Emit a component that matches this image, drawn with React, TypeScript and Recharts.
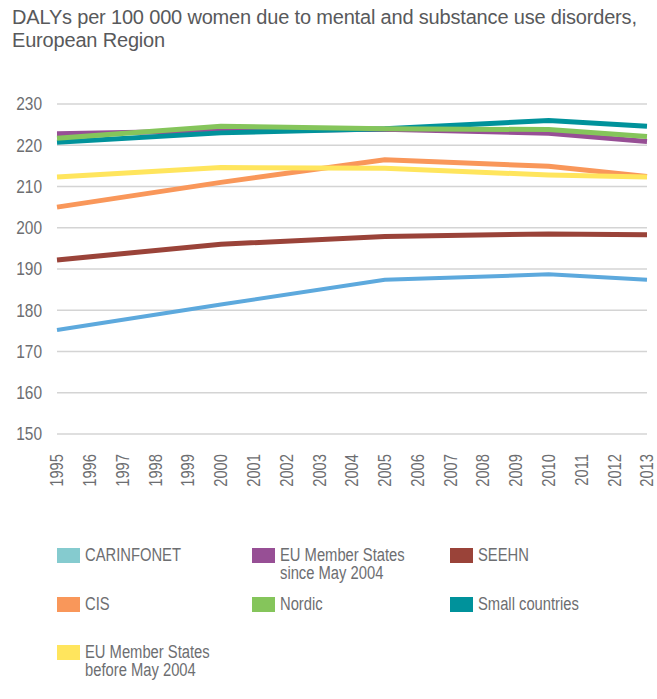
import React from "react";
import { LineChart, Line, XAxis, YAxis, CartesianGrid } from "recharts";

// x axis shows every year, values are only known for these years
const years = [
  "1995", "1996", "1997", "1998", "1999", "2000", "2001", "2002", "2003", "2004",
  "2005", "2006", "2007", "2008", "2009", "2010", "2011", "2012", "2013",
];
const measuredYears = ["1995", "2000", "2005", "2010", "2013"];

const carinfonet = [175.2, 181.4, 187.4, 188.7, 187.4];
const euSince2004 = [222.8, 223.5, 223.9, 222.9, 220.9];
const seehn = [192.2, 196.0, 197.9, 198.5, 198.3];
const cis = [205.0, 211.0, 216.5, 214.9, 212.4];
const nordic = [221.7, 224.6, 224.0, 223.8, 222.1];
const smallCountries = [220.7, 223.0, 224.0, 226.0, 224.6];
const euBefore2004 = [212.3, 214.6, 214.4, 212.8, 212.3];

const yTicks = [150, 160, 170, 180, 190, 200, 210, 220, 230];

const series = [
  { key: "carinfonet", name: "CARINFONET", values: carinfonet, stroke: "#5DA9DD", swatch: "#85CBCF" },
  { key: "seehn", name: "SEEHN", values: seehn, stroke: "#9A4339", swatch: "#9A4339" },
  { key: "euSince", name: "EU Member States\nsince May 2004", values: euSince2004, stroke: "#974F95", swatch: "#974F95" },
  { key: "small", name: "Small countries", values: smallCountries, stroke: "#00929B", swatch: "#00929B" },
  { key: "cis", name: "CIS", values: cis, stroke: "#F9975A", swatch: "#F9975A" },
  { key: "euBefore", name: "EU Member States\nbefore May 2004", values: euBefore2004, stroke: "#FFE55D", swatch: "#FFE55D" },
  { key: "nordic", name: "Nordic", values: nordic, stroke: "#85C55B", swatch: "#85C55B" },
];

const legendOrder = [
  ["carinfonet", "euSince", "seehn"],
  ["cis", "nordic", "small"],
  ["euBefore"],
];

const data = years.map((year) => {
  const row: any = { year };
  const i = measuredYears.indexOf(year);
  series.forEach((s) => {
    row[s.key] = i >= 0 ? s.values[i] : null;
  });
  return row;
});

// no condensed font available, so Liberation Sans gets squeezed horizontally
const sans = "'Liberation Sans', Arial, sans-serif";
const textGrey = "#6D6E71";

const YearTick = ({ x, y, payload }: any) => (
  <text
    x={0}
    y={0}
    dy="0.35em"
    textAnchor="end"
    transform={`translate(${x}, ${y}) rotate(-90) scale(0.82, 1)`}
    fill={textGrey}
    fontSize={18}
    fontFamily={sans}
  >
    {payload.value}
  </text>
);

const ValueTick = ({ x, y, payload }: any) => (
  <text
    x={0}
    y={0}
    dy="0.36em"
    textAnchor="end"
    transform={`translate(${x}, ${y}) scale(0.86, 1)`}
    fill={textGrey}
    fontSize={18}
    fontFamily={sans}
  >
    {payload.value}
  </text>
);

const colX = [57, 252, 450];
const rowY = [548, 597, 645];

export default function App() {
  return (
    <div
      style={{
        position: "absolute",
        left: 0,
        top: 0,
        width: 657,
        height: 699,
        background: "#fff",
      }}
    >
      <div
        style={{
          position: "absolute",
          left: 12,
          top: 6,
          fontFamily: sans,
          fontSize: 20,
          letterSpacing: "-0.18px",
          lineHeight: "23px",
          color: "#58595B",
          whiteSpace: "nowrap",
        }}
      >
        DALYs per 100 000 women due to mental and substance use disorders,
        <br />
        European Region
      </div>

      <div style={{ position: "absolute", left: 0, top: 0 }}>
        <LineChart
          width={657}
          height={500}
          data={data}
          margin={{ top: 104, right: 10, bottom: 0, left: 0 }}
        >
          <CartesianGrid vertical={false} stroke="#D4D4D4" strokeWidth={1.5} />
          <XAxis
            dataKey="year"
            interval={0}
            height={66}
            axisLine={false}
            tickLine={false}
            tickSize={0}
            tickMargin={20}
            tick={<YearTick />}
          />
          <YAxis
            width={57}
            domain={[150, 230]}
            ticks={yTicks}
            axisLine={false}
            tickLine={false}
            tickSize={0}
            tickMargin={15}
            tick={<ValueTick />}
          />
          {series.map((s) => (
            <Line
              key={s.key}
              type="linear"
              dataKey={s.key}
              stroke={s.stroke}
              strokeWidth={s.key === "carinfonet" ? 4 : 5}
              dot={false}
              connectNulls
              isAnimationActive={false}
            />
          ))}
        </LineChart>
      </div>

      {legendOrder.map((row, r) =>
        row.map((k, c) => {
          const s = series.find((d) => d.key === k)!;
          return (
            <div key={k}>
              <div
                style={{
                  position: "absolute",
                  left: colX[c],
                  top: rowY[r],
                  width: 23,
                  height: 15,
                  background: s.swatch,
                }}
              />
              <div
                style={{
                  position: "absolute",
                  left: colX[c] + 28,
                  top: rowY[r] - 1,
                  fontFamily: sans,
                  fontSize: 18,
                  lineHeight: "17.5px",
                  color: textGrey,
                  whiteSpace: "pre",
                  transform: "scaleX(0.82)",
                  transformOrigin: "left top",
                }}
              >
                {s.name}
              </div>
            </div>
          );
        })
      )}
    </div>
  );
}
